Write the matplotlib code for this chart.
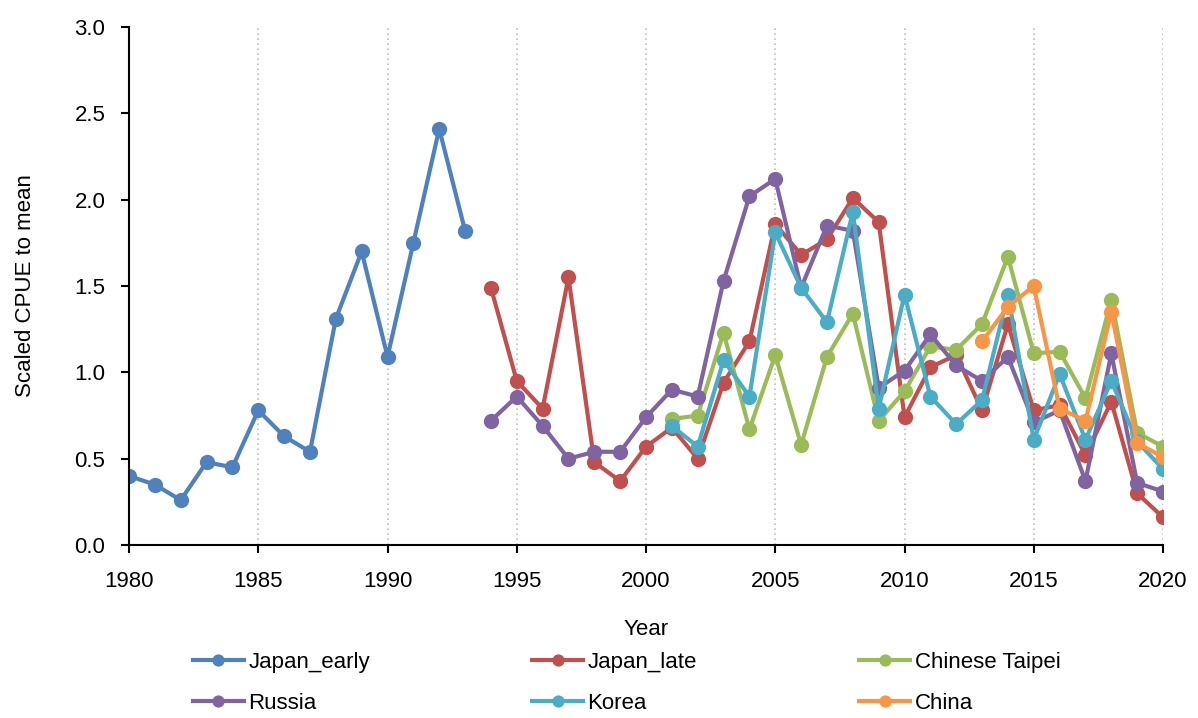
import matplotlib
matplotlib.use("Agg")
import matplotlib.pyplot as plt

# scaled CPUE indices by fleet
years_early = list(range(1980, 1994))
japan_early = [0.40, 0.35, 0.26, 0.48, 0.45, 0.78, 0.63, 0.54, 1.31, 1.70, 1.09, 1.75, 2.41, 1.82]

years_late = list(range(1994, 2021))
japan_late = [1.49, 0.95, 0.79, 1.55, 0.48, 0.37, 0.57, 0.68, 0.50, 0.94, 1.18, 1.86, 1.68, 1.77,
              2.01, 1.87, 0.74, 1.03, 1.10, 0.78, 1.28, 0.78, 0.81, 0.52, 0.83, 0.30, 0.16]
russia = [0.72, 0.86, 0.69, 0.50, 0.54, 0.54, 0.74, 0.90, 0.86, 1.53, 2.02, 2.12, 1.49, 1.85,
          1.82, 0.91, 1.01, 1.22, 1.04, 0.95, 1.09, 0.71, 0.78, 0.37, 1.11, 0.36, 0.31]

years_2001 = list(range(2001, 2021))
chinese_taipei = [0.73, 0.75, 1.23, 0.67, 1.10, 0.58, 1.09, 1.34, 0.72, 0.89, 1.15, 1.13, 1.28,
                  1.67, 1.11, 1.12, 0.85, 1.42, 0.65, 0.57]
korea = [0.69, 0.57, 1.07, 0.86, 1.81, 1.49, 1.29, 1.93, 0.79, 1.45, 0.86, 0.70, 0.84, 1.45,
         0.61, 0.99, 0.61, 0.95, 0.60, 0.44]

years_china = list(range(2013, 2021))
china = [1.18, 1.38, 1.50, 0.79, 0.72, 1.35, 0.59, 0.51]

plt.rcParams['font.family'] = ['Liberation Sans', 'DejaVu Sans']

fig = plt.figure(figsize=(11.98, 7.18), dpi=100)
ax = fig.add_axes([0.1077, 0.2409, 0.8631, 0.7215])

style = dict(linewidth=3.0, marker='o', markersize=11, markeredgewidth=0)
l1, = ax.plot(years_early, japan_early, color='#4F81BD', label='Japan_early', **style)
l2, = ax.plot(years_late, japan_late, color='#C0504D', label='Japan_late', **style)
l3, = ax.plot(years_2001, chinese_taipei, color='#9BBB59', label='Chinese Taipei', **style)
l4, = ax.plot(years_late, russia, color='#8064A2', label='Russia', **style)
l5, = ax.plot(years_2001, korea, color='#4BACC6', label='Korea', **style)
l6, = ax.plot(years_china, china, color='#F79646', label='China', **style)

ax.set_xlim(1980, 2020)
ax.set_ylim(0, 3.0)
ax.set_xticks(range(1980, 2021, 5))
ax.set_yticks([0, 0.5, 1.0, 1.5, 2.0, 2.5, 3.0])
ax.set_yticklabels(['0.0', '0.5', '1.0', '1.5', '2.0', '2.5', '3.0'])

# dotted vertical gridlines
for x in range(1985, 2021, 5):
    ax.axvline(x, color='#BFBFBF', linestyle=(0, (1, 2)), linewidth=1.2, zorder=0)

for s in ['top', 'right']:
    ax.spines[s].set_visible(False)
ax.spines['left'].set_linewidth(1.5)
ax.spines['bottom'].set_linewidth(1.5)
ax.tick_params(axis='both', labelsize=16, direction='out', length=6, width=1.5)
ax.tick_params(axis='x', pad=13)
ax.tick_params(axis='y', pad=11)

ax.set_xlabel('Year', fontsize=16, labelpad=19)
ax.set_ylabel('Scaled CPUE to mean', fontsize=16, labelpad=28)

# legend fills column-wise, so order handles to read row by row
handles = [l1, l4, l2, l5, l3, l6]
labels = [h.get_label() for h in handles]
fig.legend(handles, labels, loc='upper center', bbox_to_anchor=(0.523, 0.1195), ncol=3,
           frameon=False, fontsize=16, handlelength=2.3, handletextpad=0.2,
           columnspacing=7.3, labelspacing=0.9, markerscale=0.8)

fig.savefig('out.png', dpi=100)
